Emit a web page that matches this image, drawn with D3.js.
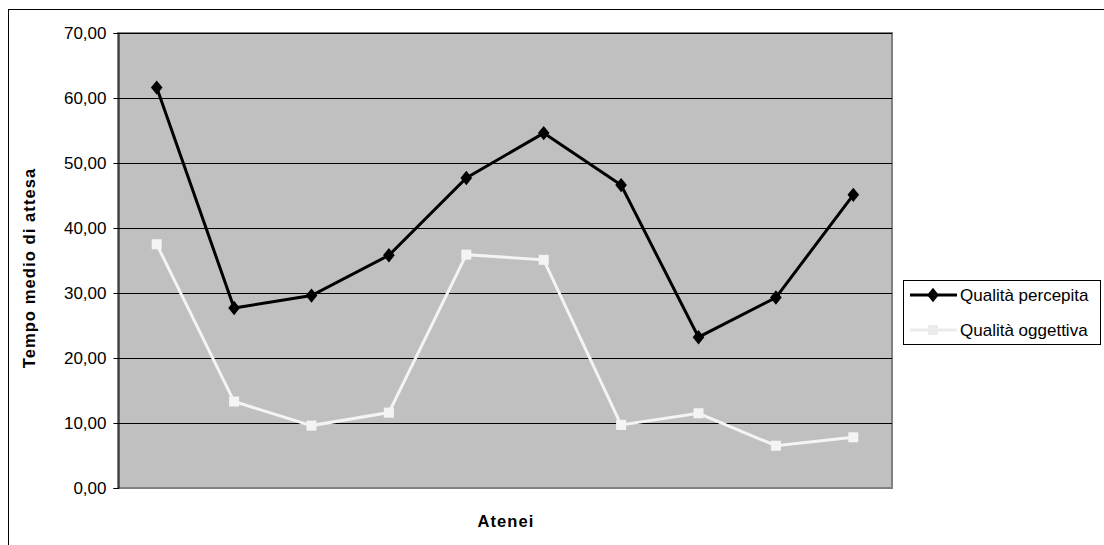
<!DOCTYPE html>
<html>
<head>
<meta charset="utf-8">
<script src="https://cdn.jsdelivr.net/npm/d3@7"></script>
<style>
  body { margin: 0; background: #fff; }
  text { font-family: "Liberation Sans", Arial, sans-serif; }
</style>
</head>
<body>
<div id="chart"></div>
<script>
// data
var atenei = ["1", "2", "3", "4", "5", "6", "7", "8", "9", "10"];
var percepita = [61.6, 27.7, 29.6, 35.8, 47.7, 54.6, 46.6, 23.2, 29.3, 45.1];
var oggettiva = [37.5, 13.3, 9.6, 11.6, 35.9, 35.1, 9.7, 11.5, 6.5, 7.8];
var yTicks = [0, 10, 20, 30, 40, 50, 60, 70];
var seriesNames = ["Qualità percepita", "Qualità oggettiva"];

var W = 1104, H = 545;
var marg = { top: 33, bot: 57, left: 118, right: 212 };

var svg = d3.select("#chart").append("svg")
  .attr("width", W).attr("height", H);

// outer chart frame (runs off the page at right/bottom)
svg.append("rect")
  .attr("x", 8.5).attr("y", 9.5)
  .attr("width", W).attr("height", H)
  .attr("fill", "#fff").attr("stroke", "#000");

var x = d3.scaleBand()
  .domain(atenei)
  .range([marg.left, W - marg.right]);

var y = d3.scaleLinear()
  .domain([0, 70])
  .range([H - marg.bot, marg.top]);

var px = function(d, i) { return x(atenei[i]) + x.bandwidth() / 2; };

// plot area
svg.append("rect")
  .attr("x", marg.left).attr("y", marg.top)
  .attr("width", W - marg.right - marg.left)
  .attr("height", (H - marg.bot) - marg.top)
  .attr("fill", "#c0c0c0")
  .attr("stroke", "#808080").attr("stroke-width", 2);

// gridlines
svg.append("g").selectAll("line")
  .data(yTicks.slice(1))
  .enter().append("line")
  .attr("x1", marg.left).attr("x2", W - marg.right)
  .attr("y1", d => Math.round(y(d)) + 0.5).attr("y2", d => Math.round(y(d)) + 0.5)
  .attr("stroke", "#000").attr("stroke-width", 1);

// y axis
var yAxis = d3.axisLeft(y)
  .tickValues(yTicks)
  .tickSize(5)
  .tickPadding(7)
  .tickFormat(d => d3.format(".2f")(d).replace(".", ","));

var ga = svg.append("g")
  .attr("transform", "translate(" + (marg.left + 0.5) + ",0)")
  .call(yAxis);
ga.select(".domain").attr("stroke", "#000");
ga.selectAll(".tick line").attr("stroke", "#000");
ga.selectAll(".tick text").attr("font-size", 17).attr("fill", "#000")
  .attr("font-family", "Liberation Sans, Arial, sans-serif");

// axis titles
svg.append("text")
  .attr("transform", "translate(35,268) rotate(-90)")
  .attr("text-anchor", "middle")
  .attr("font-size", 16.5).attr("font-weight", "bold")
  .attr("letter-spacing", 1.1)
  .text("Tempo medio di attesa");

svg.append("text")
  .attr("x", 506).attr("y", 527)
  .attr("text-anchor", "middle")
  .attr("font-size", 16.5).attr("font-weight", "bold")
  .attr("letter-spacing", 1.1)
  .text("Atenei");

var line = d3.line()
  .x(px)
  .y(d => y(d));

// oggettiva series (white)
svg.append("path")
  .datum(oggettiva)
  .attr("d", line)
  .attr("fill", "none").attr("stroke", "#f4f4f4").attr("stroke-width", 3);

svg.append("g").selectAll("rect")
  .data(oggettiva)
  .enter().append("rect")
  .attr("x", (d, i) => px(d, i) - 5).attr("y", d => y(d) - 5)
  .attr("width", 10).attr("height", 10)
  .attr("fill", "#f4f4f4");

// percepita series (black)
svg.append("path")
  .datum(percepita)
  .attr("d", line)
  .attr("fill", "none").attr("stroke", "#000").attr("stroke-width", 3);

var diamond = d3.symbol().type(d3.symbolDiamond).size(60);
svg.append("g").selectAll("path")
  .data(percepita)
  .enter().append("path")
  .attr("d", diamond)
  .attr("transform", (d, i) => "translate(" + px(d, i) + "," + y(d) + ") scale(1.4,1)")
  .attr("fill", "#000");

// legend
var lg = svg.append("g").attr("transform", "translate(903,280)");
lg.append("rect")
  .attr("x", 0.5).attr("y", 0.5)
  .attr("width", 197).attr("height", 64)
  .attr("fill", "#fff").attr("stroke", "#000");

var rowY = [15, 50];
var colors = ["#000", "#ececec"];
seriesNames.forEach(function(name, i) {
  var row = lg.append("g").attr("transform", "translate(0," + rowY[i] + ")");
  row.append("line")
    .attr("x1", 7).attr("x2", 54)
    .attr("stroke", colors[i]).attr("stroke-width", 3);
  if (i == 0) {
    row.append("path").attr("d", diamond)
      .attr("transform", "translate(30,0) scale(1.4,1)")
      .attr("fill", "#000");
  } else {
    row.append("rect").attr("x", 25).attr("y", -5)
      .attr("width", 10).attr("height", 10).attr("fill", colors[i]);
  }
  row.append("text")
    .attr("x", 57).attr("y", 6)
    .attr("font-size", 17)
    .text(name);
});
</script>
</body>
</html>
